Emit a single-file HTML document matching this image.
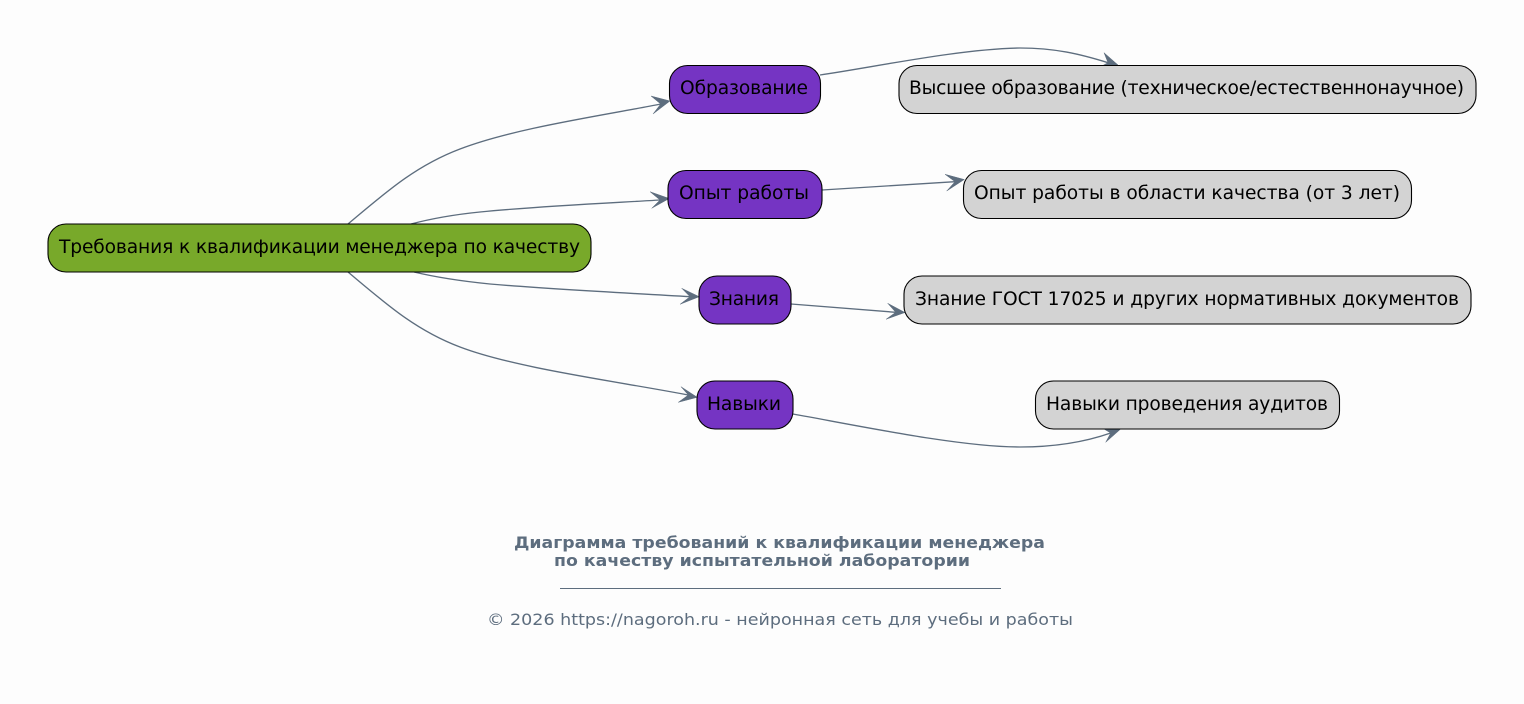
<!DOCTYPE html>
<html><head><meta charset="utf-8"><style>
html,body{margin:0;padding:0;background:#fdfdfd}
svg{display:block}
text{font-family:"DejaVu Sans",sans-serif}
.n{font-size:18.67px;fill:#000}
.b{stroke:#000;stroke-width:1.1}
.e{fill:none;stroke:#5d6d7e;stroke-width:1.35}
.a{fill:#5d6d7e;stroke:#5d6d7e;stroke-width:.5;stroke-linejoin:miter}
.c{font-size:16px;fill:#5d6d7e}
</style></head><body>
<svg width="1524" height="704" viewBox="0 0 1524 704" xmlns="http://www.w3.org/2000/svg">
<rect width="1524" height="704" fill="#fdfdfd"/>
<path class="e" d="M348 224C385 193 415 166 460 149C515 128 600 116 661 104"/>
<polygon class="a" points="670,101 651,96 660.700,104 653,114"/>
<path class="e" d="M411 224C430 219 450 215 480 212C540 206 610 203 660 200"/>
<polygon class="a" points="669.300,198.500 650,191.700 660,200 651.700,208.300"/>
<path class="e" d="M414 272C435 277 460 281 490 284C560 290 630 293 690 296.700"/>
<polygon class="a" points="699.300,296.700 681.700,288.300 690,296.700 680,304.300"/>
<path class="e" d="M348 272C385 303 415 330 460 347C515 368 615 381 688.300 395"/>
<polygon class="a" points="697.300,397.300 681,386.700 688.300,395 678.300,402.300"/>
<path class="e" d="M820 75C880 66 960 49 1020 48C1055 48 1080 54 1108 62.700"/>
<polygon class="a" points="1118,65 1104,52.700 1108,62.700 1098,68"/>
<path class="e" d="M822 190L955 181.700"/>
<polygon class="a" points="964.300,179.500 945,174.300 955,181.700 946.700,191"/>
<path class="e" d="M791 304L895.700 312.300"/>
<polygon class="a" points="905,312.500 887.700,303.300 895.700,312.300 886,319.300"/>
<path class="e" d="M793 414C860 426 960 447 1020 447C1055 447 1085 442 1110.700 433"/>
<polygon class="a" points="1120.700,429 1100,426.700 1110.700,433 1105.700,442.300"/>
<rect class="b" x="48" y="224" width="543" height="48" rx="18" fill="#78a92a"/>
<rect class="b" x="669.500" y="65.500" width="151" height="48" rx="18" fill="#7534c3"/>
<rect class="b" x="668" y="170.500" width="154" height="48" rx="18" fill="#7534c3"/>
<rect class="b" x="699" y="276" width="92" height="48" rx="18" fill="#7534c3"/>
<rect class="b" x="697" y="381" width="96" height="48" rx="18" fill="#7534c3"/>
<rect class="b" x="899" y="65.500" width="577" height="48" rx="18" fill="#d3d3d3"/>
<rect class="b" x="963.500" y="170.500" width="448" height="48" rx="18" fill="#d3d3d3"/>
<rect class="b" x="904" y="276" width="567" height="48" rx="18" fill="#d3d3d3"/>
<rect class="b" x="1035.500" y="381" width="304" height="48" rx="18" fill="#d3d3d3"/>
<text class="n" x="59" y="253" textLength="521">Требования к квалификации менеджера по качеству</text>
<text class="n" x="680" y="94" textLength="128">Образование</text>
<text class="n" x="679" y="199" textLength="130">Опыт работы</text>
<text class="n" x="709" y="305" textLength="70">Знания</text>
<text class="n" x="707" y="410" textLength="74">Навыки</text>
<text class="n" x="909" y="94" textLength="555">Высшее образование (техническое/естественнонаучное)</text>
<text class="n" x="974" y="199" textLength="426">Опыт работы в области качества (от 3 лет)</text>
<text class="n" x="915" y="305" textLength="544">Знание ГОСТ 17025 и других нормативных документов</text>
<text class="n" x="1046" y="410" textLength="282">Навыки проведения аудитов</text>
<text class="c" x="514" y="548" font-weight="bold" textLength="531" lengthAdjust="spacingAndGlyphs">Диаграмма требований к квалификации менеджера</text>
<text class="c" x="554" y="566" font-weight="bold" textLength="416" lengthAdjust="spacingAndGlyphs">по качеству испытательной лаборатории</text>
<rect x="560" y="588" width="441" height="1" fill="#5d6d7e"/>
<text class="c" x="487" y="625" textLength="586" lengthAdjust="spacingAndGlyphs">© 2026 https://nagoroh.ru - нейронная сеть для учебы и работы</text>
</svg>
</body></html>
